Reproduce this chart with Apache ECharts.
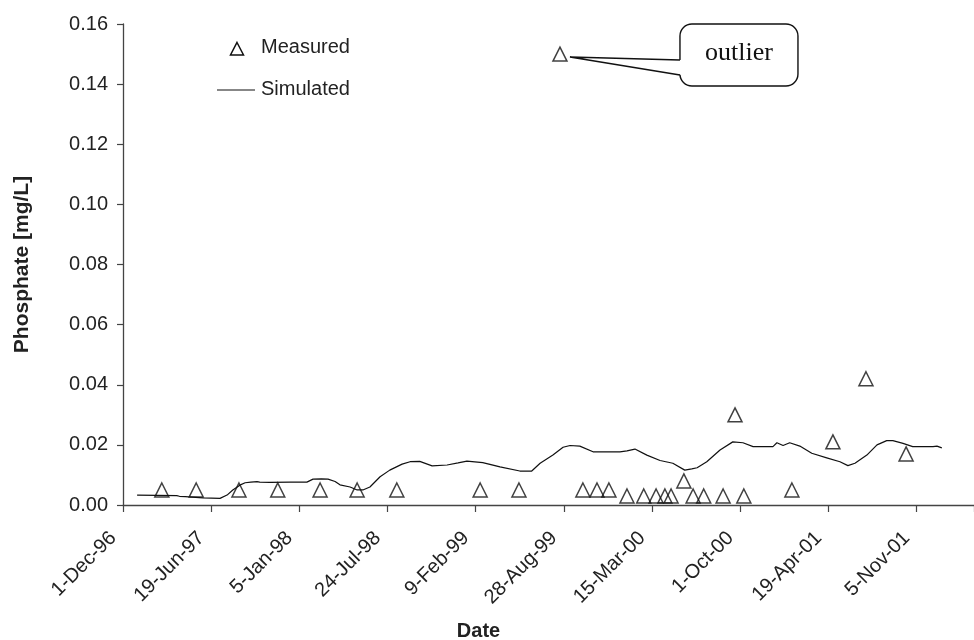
<!DOCTYPE html>
<html>
<head>
<meta charset="utf-8">
<script src="https://cdn.jsdelivr.net/npm/echarts@6/dist/echarts.min.js"></script>
<style>
html,body{margin:0;padding:0;background:#fff;}
#chart{width:974px;height:640px;}
</style>
</head>
<body>
<div id="chart"></div>
<script>
// Days counted from 1-Dec-96
const xTickLabels = ['1-Dec-96','19-Jun-97','5-Jan-98','24-Jul-98','9-Feb-99','28-Aug-99','15-Mar-00','1-Oct-00','19-Apr-01','5-Nov-01'];
const yTickLabels = ['0.00','0.02','0.04','0.06','0.08','0.10','0.12','0.14','0.16'];
const seriesNames = ['Measured', 'Simulated'];

const measuredDays = [88,166,263,351,447,531,621,810,898,991,1043,1075,1102,1143,1181,1209,1229,1243,1272,1293,1317,1361,1388,1408,1517,1610,1685,1776];
const measuredVals = [0.005,0.005,0.005,0.005,0.005,0.005,0.005,0.005,0.005,0.150,0.005,0.005,0.005,0.003,0.003,0.003,0.003,0.003,0.008,0.003,0.003,0.003,0.030,0.003,0.005,0.021,0.042,0.017];

const simDays = [32,122,128,141,181,220,236,249,265,277,290,304,310,333,380,417,431,450,465,481,492,515,531,544,560,583,605,633,651,673,701,735,760,780,816,855,900,927,946,975,998,1014,1036,1066,1100,1127,1143,1161,1188,1218,1247,1274,1290,1302,1324,1354,1383,1406,1429,1474,1483,1497,1512,1535,1562,1596,1626,1644,1660,1687,1710,1732,1746,1769,1791,1837,1846,1857];
const simVals = [0.0033,0.0031,0.0029,0.0028,0.0024,0.0022,0.0033,0.0050,0.0066,0.0074,0.0076,0.0078,0.0076,0.0075,0.0076,0.0076,0.0086,0.0087,0.0086,0.0078,0.0067,0.0060,0.0050,0.0050,0.0060,0.0094,0.0116,0.0136,0.0144,0.0145,0.0130,0.0133,0.0140,0.0146,0.0141,0.0127,0.0113,0.0113,0.0139,0.0166,0.0192,0.0198,0.0196,0.0177,0.0177,0.0177,0.0180,0.0186,0.0166,0.0148,0.0139,0.0116,0.0120,0.0124,0.0144,0.0183,0.0210,0.0207,0.0194,0.0194,0.0207,0.0198,0.0207,0.0196,0.0172,0.0157,0.0144,0.0131,0.0139,0.0166,0.0200,0.0214,0.0214,0.0205,0.0194,0.0194,0.0196,0.0190];

const outlierIndex = 9;
const outlierText = 'outlier';

const FONT = '"Liberation Sans", Arial, Helvetica, sans-serif';
const TXT = '#222';
const AX = '#444';
const INK = '#111';

const chart = echarts.init(document.getElementById('chart'), null, {renderer: 'canvas'});

const option = {
  backgroundColor: '#fff',
  animation: false,
  grid: {left: 123, right: 0, top: 24, bottom: 135, containLabel: false, outerBoundsMode: 'none'},
  xAxis: {
    type: 'value',
    min: 0, max: 1930, interval: 200,
    name: 'Date', nameLocation: 'middle', nameGap: 116,
    nameTextStyle: {fontFamily: FONT, fontSize: 20, fontWeight: 'bold', color: TXT, padding: [0, 140, 0, 0]},
    axisLine: {show: true, lineStyle: {color: AX, width: 1.3}},
    axisTick: {show: true, inside: false, length: 7, lineStyle: {color: AX, width: 1.2}},
    axisLabel: {
      rotate: 45, margin: 20, fontFamily: FONT, fontSize: 20, color: TXT,
      padding: [0, 14, 0, 0],
      formatter: v => xTickLabels[Math.round(v / 200)] || ''
    },
    splitLine: {show: false}
  },
  yAxis: {
    type: 'value',
    min: 0, max: 0.16, interval: 0.02,
    name: 'Phosphate [mg/L]', nameLocation: 'middle', nameGap: 90,
    nameTextStyle: {fontFamily: FONT, fontSize: 21, fontWeight: 'bold', color: TXT},
    axisLine: {show: true, lineStyle: {color: AX, width: 1.3}},
    axisTick: {show: true, inside: false, length: 6, lineStyle: {color: AX, width: 1.2}},
    axisLabel: {
      margin: 15, fontFamily: FONT, fontSize: 20, color: TXT,
      formatter: v => yTickLabels[Math.round(v / 0.02)]
    },
    splitLine: {show: false}
  },
  series: [
    {
      name: seriesNames[0],
      type: 'scatter',
      symbol: 'triangle',
      symbolSize: 14,
      itemStyle: {color: 'rgba(255,255,255,0)', borderColor: INK, borderWidth: 1.5},
      emphasis: {disabled: true},
      data: measuredDays.map((d, i) => [d, measuredVals[i]]),
      z: 3
    },
    {
      name: seriesNames[1],
      type: 'line',
      symbol: 'none',
      lineStyle: {color: INK, width: 1.2},
      data: simDays.map((d, i) => [d, simVals[i]]),
      z: 2
    }
  ]
};
chart.setOption(option);

// Callout anchored on the outlier point
const p = chart.convertToPixel({seriesIndex: 0}, [measuredDays[outlierIndex], measuredVals[outlierIndex]]);
const px = p[0], py = p[1];
const tip = [px + 10, py + 3];
const x0 = px + 120, x1 = px + 238, y0 = py - 30, y1 = py + 32, r = 12;
const upA = [x0, py + 6], loA = [x0, y1 - r + 1];

const graphics = [
  // legend (custom, to mimic the reference)
  {type: 'polygon', shape: {points: [[237, 42.5], [243.5, 55], [230.5, 55]]}, style: {fill: 'rgba(0,0,0,0)', stroke: INK, lineWidth: 1.5}, z: 20},
  {type: 'text', x: 261, y: 47, style: {text: seriesNames[0], font: '20px ' + FONT, fill: TXT, textVerticalAlign: 'middle'}, z: 20},
  {type: 'line', shape: {x1: 217, y1: 90, x2: 255, y2: 90}, style: {stroke: INK, lineWidth: 1.2}, z: 20},
  {type: 'text', x: 261, y: 89, style: {text: seriesNames[1], font: '20px ' + FONT, fill: TXT, textVerticalAlign: 'middle'}, z: 20},
  // callout box
  {type: 'rect', shape: {x: x0, y: y0, width: x1 - x0, height: y1 - y0, r: r}, style: {fill: '#fff', stroke: INK, lineWidth: 1.4}, z: 10},
  {type: 'polygon', shape: {points: [tip, [x0 + 2, upA[1]], [x0 + 2, loA[1]]]}, style: {fill: '#fff', stroke: null}, z: 11},
  {type: 'polyline', shape: {points: [upA, tip, loA]}, style: {stroke: INK, lineWidth: 1.4, fill: null}, z: 12},
  {type: 'text', x: (x0 + x1) / 2, y: (y0 + y1) / 2 - 2,
   style: {text: outlierText, font: '26px "Liberation Serif", "Times New Roman", serif', fill: INK, textAlign: 'center', textVerticalAlign: 'middle'}, z: 13}
];
chart.setOption({graphic: graphics});
</script>
</body>
</html>
